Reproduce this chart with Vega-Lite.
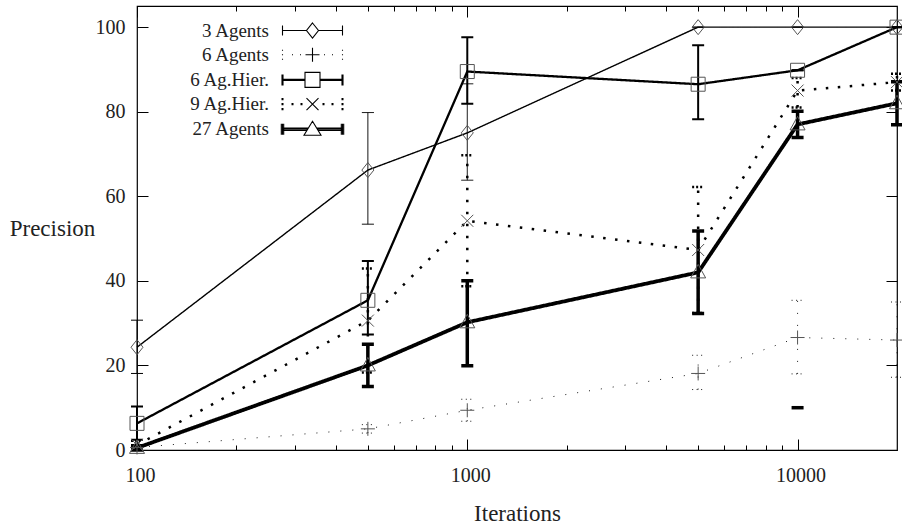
{
  "$schema": "https://vega.github.io/schema/vega-lite/v6.json",
  "width": 760,
  "height": 444,
  "autosize": {"type": "none"},
  "padding": {"left": 137, "top": 6, "right": 5, "bottom": 77},
  "background": "white",
  "config": {
    "view": {"stroke": "black", "strokeWidth": 1.2},
    "font": "Liberation Serif",
    "axis": {"domain": false, "grid": false, "tickColor": "black", "tickWidth": 1, "labelFont": "Liberation Serif", "labelFontSize": 20, "labelColor": "#222", "titleFont": "Liberation Serif", "titleFontSize": 23, "titleFontWeight": "normal", "titleColor": "#222", "labelFlush": false, "labelOverlap": false}
  },
  "datasets": {
    "series": [
      {"series": "3 Agents", "x": 100, "y": 24.3, "lo": 18.1, "hi": 30.7},
      {"series": "3 Agents", "x": 500, "y": 66.2, "lo": 53.4, "hi": 79.8},
      {"series": "3 Agents", "x": 1000, "y": 75, "lo": 63.8, "hi": 86.6},
      {"series": "3 Agents", "x": 5000, "y": 100, "lo": 100, "hi": 100},
      {"series": "3 Agents", "x": 10000, "y": 100, "lo": 100, "hi": 100},
      {"series": "3 Agents", "x": 20000, "y": 100, "lo": 100, "hi": 100},
      {"series": "6 Agents", "x": 100, "y": 0.6, "lo": 0, "hi": 1.2},
      {"series": "6 Agents", "x": 500, "y": 5, "lo": 4, "hi": 6},
      {"series": "6 Agents", "x": 1000, "y": 9.4, "lo": 6.8, "hi": 12},
      {"series": "6 Agents", "x": 5000, "y": 18.1, "lo": 14.3, "hi": 22.4},
      {"series": "6 Agents", "x": 10000, "y": 26.6, "lo": 18, "hi": 35.4},
      {"series": "6 Agents", "x": 20000, "y": 26, "lo": 17.2, "hi": 35},
      {"series": "6 Ag.Hier.", "x": 100, "y": 6.3, "lo": 2.4, "hi": 10.3},
      {"series": "6 Ag.Hier.", "x": 500, "y": 35.4, "lo": 27.3, "hi": 44.7},
      {"series": "6 Ag.Hier.", "x": 1000, "y": 89.5, "lo": 81.9, "hi": 97.6},
      {"series": "6 Ag.Hier.", "x": 5000, "y": 86.5, "lo": 78.2, "hi": 95.7},
      {"series": "6 Ag.Hier.", "x": 10000, "y": 89.8, "lo": 89.8, "hi": 89.8},
      {"series": "6 Ag.Hier.", "x": 20000, "y": 100, "lo": 100, "hi": 100},
      {"series": "9 Ag.Hier.", "x": 100, "y": 1.2, "lo": 0.2, "hi": 2.2},
      {"series": "9 Ag.Hier.", "x": 500, "y": 30.6, "lo": 18.3, "hi": 42.9},
      {"series": "9 Ag.Hier.", "x": 1000, "y": 54.2, "lo": 38.7, "hi": 69.7},
      {"series": "9 Ag.Hier.", "x": 5000, "y": 47.3, "lo": 32.4, "hi": 62.2},
      {"series": "9 Ag.Hier.", "x": 10000, "y": 85, "lo": 81, "hi": 88},
      {"series": "9 Ag.Hier.", "x": 20000, "y": 87, "lo": 85, "hi": 89},
      {"series": "27 Agents", "x": 100, "y": 0.5, "lo": 0, "hi": 1},
      {"series": "27 Agents", "x": 500, "y": 20, "lo": 15, "hi": 25},
      {"series": "27 Agents", "x": 1000, "y": 30.2, "lo": 19.9, "hi": 40},
      {"series": "27 Agents", "x": 5000, "y": 42, "lo": 32.3, "hi": 51.8},
      {"series": "27 Agents", "x": 10000, "y": 77, "lo": 73.9, "hi": 80.1},
      {"series": "27 Agents", "x": 20000, "y": 82, "lo": 76.9, "hi": 87.1}
    ],
    "stray": [{"x": 10000, "y": 10}]
  },
  "layer": [
    {
      "data": {"name": "series"},
      "mark": {"type": "line", "stroke": "black", "strokeCap": "butt", "strokeJoin": "miter"},
      "encoding": {
        "x": {"field": "x", "type": "quantitative", "scale": {"type": "log", "domain": [100, 20000], "nice": false},
          "axis": {"orient": "bottom", "values": [100, 1000, 10000], "format": "d", "tickSize": -11, "labelPadding": 26, "labelOffset": 3, "title": "Iterations", "titleY": 63, "titleBaseline": "middle"}},
        "y": {"field": "y", "type": "quantitative", "scale": {"domain": [0, 105], "nice": false, "zero": false},
          "axis": {"orient": "left", "values": [0, 20, 40, 60, 80, 100], "tickSize": -11, "labelPadding": 23, "title": "Precision", "titleAngle": 0, "titleAlign": "center", "titleX": -85, "titleY": 222, "titleBaseline": "middle"}},
        "detail": {"field": "series", "type": "nominal"},
        "strokeWidth": {"condition": [
          {"test": "datum.series === '27 Agents'", "value": 3.8},
          {"test": "datum.series === '6 Ag.Hier.'", "value": 2.3},
          {"test": "datum.series === '9 Ag.Hier.'", "value": 2.5},
          {"test": "datum.series === '6 Agents'", "value": 0.9}], "value": 1.4},
        "strokeDash": {"field": "series", "type": "nominal", "scale": {"domain": ["3 Agents", "6 Agents", "6 Ag.Hier.", "9 Ag.Hier.", "27 Agents"], "range": [[1, 0], [1, 11], [1, 0], [2.5, 9.5], [1, 0]]}, "legend": null}
      }
    },
    {
      "data": {"name": "series"},
      "mark": {"type": "rule", "stroke": "black", "strokeCap": "butt"},
      "encoding": {
        "x": {"field": "x", "type": "quantitative", "axis": null},
        "y": {"field": "lo", "type": "quantitative", "axis": null},
        "y2": {"field": "hi"},
        "strokeWidth": {"condition": [
          {"test": "datum.series === '27 Agents'", "value": 3.5},
          {"test": "datum.series === '6 Ag.Hier.'", "value": 2},
          {"test": "datum.series === '9 Ag.Hier.'", "value": 2.5},
          {"test": "datum.series === '6 Agents'", "value": 0.9}], "value": 1},
        "strokeDash": {"field": "series", "type": "nominal", "scale": {"domain": ["3 Agents", "6 Agents", "6 Ag.Hier.", "9 Ag.Hier.", "27 Agents"], "range": [[1, 0], [1, 11], [1, 0], [2.5, 9.5], [1, 0]]}, "legend": null}
      }
    },
    {
      "data": {"name": "series"},
      "transform": [{"fold": ["lo", "hi"], "as": ["end", "yv"]}],
      "mark": {"type": "point", "shape": "M-6,0H6", "size": 4, "filled": false, "opacity": 1, "stroke": "black", "strokeCap": "butt"},
      "encoding": {
        "x": {"field": "x", "type": "quantitative", "axis": null},
        "y": {"field": "yv", "type": "quantitative", "axis": null},
        "strokeWidth": {"condition": [
          {"test": "datum.series === '27 Agents'", "value": 3.5},
          {"test": "datum.series === '6 Ag.Hier.'", "value": 2},
          {"test": "datum.series === '9 Ag.Hier.'", "value": 2.5},
          {"test": "datum.series === '6 Agents'", "value": 0.9}], "value": 1},
        "strokeDash": {"field": "series", "type": "nominal", "scale": {"domain": ["3 Agents", "6 Agents", "6 Ag.Hier.", "9 Ag.Hier.", "27 Agents"], "range": [[1, 0], [1, 3.5], [1, 0], [2, 2], [1, 0]]}, "legend": null}
      }
    },
    {
      "data": {"name": "stray"},
      "mark": {"type": "point", "shape": "M-6,0H6", "size": 4, "filled": false, "opacity": 1, "stroke": "black", "strokeWidth": 3.5, "strokeCap": "butt"},
      "encoding": {
        "x": {"field": "x", "type": "quantitative", "axis": null},
        "y": {"field": "y", "type": "quantitative", "axis": null}
      }
    },
    {
      "data": {"name": "series"},
      "mark": {"type": "point", "size": 4, "filled": false, "opacity": 1, "stroke": "#555", "strokeWidth": 1},
      "encoding": {
        "x": {"field": "x", "type": "quantitative", "axis": null},
        "y": {"field": "y", "type": "quantitative", "axis": null},
        "shape": {"field": "series", "type": "nominal",
          "scale": {"domain": ["3 Agents", "6 Agents", "6 Ag.Hier.", "9 Ag.Hier.", "27 Agents"],
            "range": ["M0,-7.5L6,0L0,7.5L-6,0Z", "M-7,0H7M0,-7V7", "M-7,-7H7V7H-7Z", "M-6,-6L6,6M-6,6L6,-6", "M0,-8L7.5,5.5H-7.5Z"]},
          "legend": null
        }
      }
    },
    {
      "data": {"name": "series"},
      "mark": {"type": "point", "size": 4, "filled": false, "opacity": 0, "stroke": "black", "strokeWidth": 1.1},
      "encoding": {
        "x": {"field": "x", "type": "quantitative", "axis": null},
        "y": {"field": "y", "type": "quantitative", "axis": null},
        "shape": {"field": "series", "type": "nominal",
          "scale": {"domain": ["3 Agents", "6 Agents", "6 Ag.Hier.", "9 Ag.Hier.", "27 Agents"],
            "range": [
              "M-30,-5V5M30,-5V5M-30,0H-6M6,0H30M0,-7.5L6,0L0,7.5L-6,0Z",
              "M-30,-5v1M-30,-0.5v1M-30,4v1M30,-5v1M30,-0.5v1M30,4v1M-20.5,0h1M-12.5,0h1M11.5,0h1M19.5,0h1M-7,0H7M0,-7V7",
              "M-30,-0.5H-7.5M-30,0.5H-7.5M7.5,-0.5H30M7.5,0.5H30M-30.5,-5.5V5.5M-29.5,-5.5V5.5M29.5,-5.5V5.5M30.5,-5.5V5.5M-7.5,-7.5H7.5V7.5H-7.5Z",
              "M-31,-5.5h2M-31,-4.5h2M-31,-0.5h2M-31,0.5h2M-31,4.5h2M-31,5.5h2M29,-5.5h2M29,-4.5h2M29,-0.5h2M29,0.5h2M29,4.5h2M29,5.5h2M-21,-0.5h2M-21,0.5h2M-12,-0.5h2M-12,0.5h2M10,-0.5h2M10,0.5h2M19,-0.5h2M19,0.5h2M-6,-6L6,6M-6,6L6,-6",
              "M-30,-1.2H-4.1M-30,0H-4.9M-30,1.2H-5.6M4.1,-1.2H30M4.9,0H30M5.6,1.2H30M-31.2,-5.5V5.5M-30,-5.5V5.5M-28.8,-5.5V5.5M28.8,-5.5V5.5M30,-5.5V5.5M31.2,-5.5V5.5M0,-8L8.5,6H-8.5Z"
            ]},
          "legend": {
            "title": null, "orient": "none", "legendX": 166, "legendY": 15, "padding": 0,
            "labelAlign": "right", "labelOffset": -53, "labelFont": "Liberation Serif", "labelFontSize": 19, "labelColor": "#222", "labelLimit": 0,
            "symbolSize": 4, "rowPadding": 4.2, "symbolOpacity": 1, "symbolStrokeWidth": 1.1, "symbolStrokeColor": "black", "symbolFillColor": "transparent",
            "encode": {"symbols": {"update": {"opacity": {"value": 1}}}}
          }
        }
      }
    },
    {
      "data": {"name": "series"},
      "mark": {"type": "point", "opacity": 0},
      "encoding": {
        "x": {"field": "x", "type": "quantitative", "axis": {"orient": "top", "values": [100, 1000, 10000], "tickSize": -11, "labels": false, "title": null}},
        "y": {"field": "y", "type": "quantitative", "axis": {"orient": "right", "values": [0, 20, 40, 60, 80, 100], "tickSize": -11, "labels": false, "title": null}}
      }
    },
    {
      "data": {"name": "series"},
      "mark": {"type": "point", "opacity": 0},
      "encoding": {
        "x": {"field": "x", "type": "quantitative", "axis": {"orient": "bottom", "values": [200, 300, 400, 500, 600, 700, 800, 900, 2000, 3000, 4000, 5000, 6000, 7000, 8000, 9000], "tickSize": -5, "labels": false, "title": null}},
        "y": {"field": "y", "type": "quantitative", "axis": null}
      }
    },
    {
      "data": {"name": "series"},
      "mark": {"type": "point", "opacity": 0},
      "encoding": {
        "x": {"field": "x", "type": "quantitative", "axis": {"orient": "top", "values": [200, 300, 400, 500, 600, 700, 800, 900, 2000, 3000, 4000, 5000, 6000, 7000, 8000, 9000], "tickSize": -5, "labels": false, "title": null}},
        "y": {"field": "y", "type": "quantitative", "axis": null}
      }
    }
  ],
  "resolve": {
    "scale": {"strokeDash": "independent", "shape": "independent"},
    "axis": {"x": "independent", "y": "independent"}
  }
}
